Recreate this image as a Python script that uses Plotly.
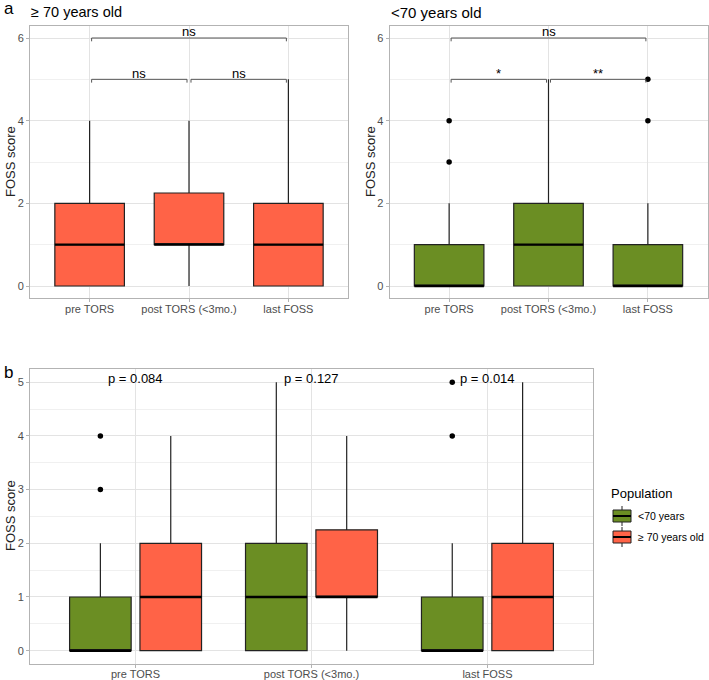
import plotly.graph_objects as go

# ---------------- data ----------------
categories = ["pre TORS", "post TORS (<3mo.)", "last FOSS"]

# >= 70 years old
old_q1 = [0, 1, 0]
old_med = [1, 1, 1]
old_q3 = [2, 2.25, 2]
old_low = [0, 0, 0]
old_up = [4, 4, 5]
old_out_x = []
old_out_y = []

# < 70 years old
young_q1 = [0, 0, 0]
young_med = [0, 1, 0]
young_q3 = [1, 2, 1]
young_low = [0, 0, 0]
young_up = [2, 5, 2]
young_out_x = [1, 1, 3, 3]
young_out_y = [3, 4, 4, 5]

sig_old = ["ns", "ns", "ns"]      # pre-post, post-last, pre-last
sig_young = ["*", "**", "ns"]
pvals = ["p = 0.084", "p = 0.127", "p = 0.014"]
legend_labels = ["<70 years", "≥ 70 years old"]

RED = "#FF6347"
GREEN = "#6B8E23"
EDGE = "#222222"
GRID = "#e3e3e3"
BORDER = "#b3b3b3"
TICKC = "#4d4d4d"
FONT = "Arial, Liberation Sans, sans-serif"

W, H = 709, 680
def px_x(a, b):
    return [a / W, b / W]
def px_y(top, bottom):
    return [1 - bottom / H, 1 - top / H]

fig = go.Figure()

pos = [1, 2, 3]

def add_panel(xa, ya, centers, q1, med, q3, low, up, color, width, ox, oy):
    fig.add_trace(go.Box(
        x=centers, q1=q1, median=med, q3=q3, lowerfence=low, upperfence=up,
        width=width, fillcolor=color, line=dict(color=EDGE, width=1.2),
        whiskerwidth=0, boxpoints=False, showlegend=False,
        xaxis=xa, yaxis=ya, hoverinfo="skip"))
    mx, my = [], []
    for c, m in zip(centers, med):
        mx += [c - width / 2, c + width / 2, None]
        my += [m, m, None]
    fig.add_trace(go.Scatter(x=mx, y=my, mode="lines", line=dict(color="black", width=2.4),
                             showlegend=False, xaxis=xa, yaxis=ya, hoverinfo="skip"))
    if ox:
        fig.add_trace(go.Scatter(x=ox, y=oy, mode="markers",
                                 marker=dict(color="black", size=5.5),
                                 showlegend=False, xaxis=xa, yaxis=ya, hoverinfo="skip"))

# panel a-left (>=70)
add_panel("x", "y", pos, old_q1, old_med, old_q3, old_low, old_up, RED, 0.7,
          old_out_x, old_out_y)
# panel a-right (<70)
add_panel("x2", "y2", pos, young_q1, young_med, young_q3, young_low, young_up, GREEN, 0.7,
          young_out_x, young_out_y)
# panel b
off = 0.2
add_panel("x3", "y3", [p - off for p in pos], young_q1, young_med, young_q3, young_low, young_up,
          GREEN, 0.35, [x - off for x in young_out_x], young_out_y)
add_panel("x3", "y3", [p + off for p in pos], old_q1, old_med, old_q3, old_low, old_up,
          RED, 0.35, [], [])

# significance brackets
def brackets(xa, ya, labels):
    specs = [(1, 2, 5, labels[0]), (2, 3, 5, labels[1]), (1, 3, 6, labels[2])]
    bx, by = [], []
    tip = 0.08
    inset = 0.02
    for a, b, yv, lab in specs:
        x0, x1 = a + inset, b - inset
        bx += [x0, x0, x1, x1, None]
        by += [yv - tip, yv, yv, yv - tip, None]
        fig.add_annotation(x=(a + b) / 2, y=yv - 0.08, xref=xa, yref=ya, text=lab,
                           showarrow=False, yanchor="bottom",
                           font=dict(size=13, color="black", family=FONT))
    fig.add_trace(go.Scatter(x=bx, y=by, mode="lines", line=dict(color="#555555", width=1),
                             showlegend=False, xaxis=xa, yaxis=ya, hoverinfo="skip"))

brackets("x", "y", sig_old)
brackets("x2", "y2", sig_young)

for p, t in zip(pos, pvals):
    fig.add_annotation(x=p, y=5.07, xref="x3", yref="y3", text=t, showarrow=False,
                       yanchor="middle", font=dict(size=13, color="black", family=FONT))

# axes
def xaxis(dom, anchor):
    return dict(domain=dom, anchor=anchor, range=[0.4, 3.6], tickvals=pos, ticktext=categories,
                showgrid=True, gridcolor=GRID, gridwidth=1, zeroline=False,
                showline=True, mirror=True, linecolor=BORDER, linewidth=1,
                ticks="outside", ticklen=3, tickcolor=BORDER, automargin=False,
                ticklabelstandoff=-3,
                tickfont=dict(size=11, color=TICKC, family=FONT))

def yaxis(dom, anchor, rng, dtick, minor):
    return dict(domain=dom, anchor=anchor, range=rng, dtick=dtick, tick0=0,
                showgrid=True, gridcolor=GRID, gridwidth=1, zeroline=False,
                minor=dict(dtick=minor, tick0=0, showgrid=True, gridcolor="#f0f0f0", gridwidth=1),
                showline=True, mirror=True, linecolor=BORDER, linewidth=1,
                ticks="outside", ticklen=3, tickcolor=BORDER, automargin=False,
                tickfont=dict(size=11, color=TICKC, family=FONT))

top_y = px_y(25.6, 298.4)
bot_y = px_y(368.8, 664.1)
fig.update_layout(
    xaxis=xaxis(px_x(30, 348), "y"),
    yaxis=yaxis(top_y, "x", [-0.3, 6.3], 2, 1),
    xaxis2=xaxis(px_x(389.5, 707.5), "y2"),
    yaxis2=yaxis(top_y, "x2", [-0.3, 6.3], 2, 1),
    xaxis3=xaxis(px_x(30, 593), "y3"),
    yaxis3=yaxis(bot_y, "x3", [-0.25, 5.25], 1, 0.5),
)

# panel labels and titles
def ptext(x, y, text, size, anchor="left", angle=0, color="black"):
    fig.add_annotation(x=x / W, y=1 - y / H, xref="paper", yref="paper", text=text,
                       showarrow=False, xanchor=anchor, yanchor="middle", textangle=angle,
                       font=dict(size=size, color=color, family=FONT))

ptext(2, 9, "a", 17)
ptext(2, 372, "b", 17)
ptext(29, 12, "≥ 70 years old", 14.5)
ptext(389, 12, "<70 years old", 15)
ptext(10, 162, "FOSS score", 13, anchor="center", angle=-90, color="#222")
ptext(370, 162, "FOSS score", 13, anchor="center", angle=-90, color="#222")
ptext(10, 516, "FOSS score", 13, anchor="center", angle=-90, color="#222")

# manual legend (ggplot-style keys)
ptext(609, 493, "Population", 13)
for i, (lab, col) in enumerate(zip(legend_labels, [GREEN, RED])):
    cy = 516 + i * 21
    x0, x1 = 613, 631
    fig.add_shape(type="line", xref="paper", yref="paper",
                  x0=(x0 + x1) / 2 / W, x1=(x0 + x1) / 2 / W,
                  y0=1 - (cy - 10) / H, y1=1 - (cy + 10) / H,
                  line=dict(color=EDGE, width=1))
    fig.add_shape(type="rect", xref="paper", yref="paper",
                  x0=x0 / W, x1=x1 / W, y0=1 - (cy - 6) / H, y1=1 - (cy + 6) / H,
                  fillcolor=col, line=dict(color=EDGE, width=1))
    fig.add_shape(type="line", xref="paper", yref="paper",
                  x0=x0 / W, x1=x1 / W, y0=1 - cy / H, y1=1 - cy / H,
                  line=dict(color="black", width=2))
    ptext(636, cy, lab, 10.5)

fig.update_layout(
    width=W, height=H, margin=dict(l=0, r=0, t=0, b=0),
    plot_bgcolor="white", paper_bgcolor="white",
    font=dict(family=FONT),
    boxmode="overlay",
    showlegend=False,
)

fig.write_html("out.html")
